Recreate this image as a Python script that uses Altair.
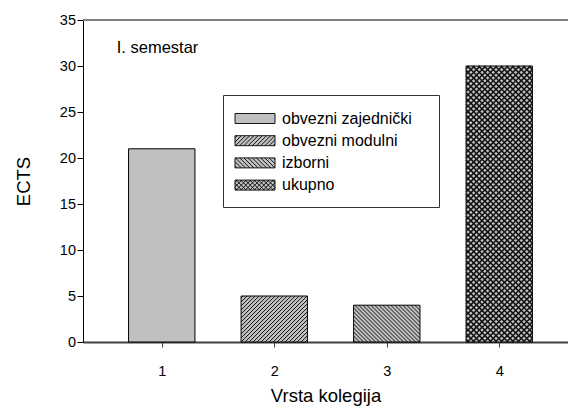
import altair as alt
import pandas as pd

# ---- data ----
positions = [1, 2, 3, 4]
values = [21, 5, 4, 30]
series = ["obvezni zajednički", "obvezni modulni", "izborni", "ukupno"]
patterns = ["solid", "fwd", "back", "cross"]
note_text = ["I. semestar"]
note_x = [0.6]
note_y = [31.4]

FONT = "Liberation Sans"
BASE = "#c0c0c0"

# plot geometry (used to make 45-degree hatch lines in data units)
W, H = 485, 322
XMIN = 0.3
XMAX = XMIN + W / 112.5
YMAX = 35
PX = W / (XMAX - XMIN)
PY = H / YMAX
HW = 0.295

bars = pd.DataFrame({
    "x0": [p - HW for p in positions],
    "x1": [p + HW for p in positions],
    "v": values,
    "zero": [0] * 4,
    "color": [BASE] * 4,
    "s": series,
})


def hatch_rows(x0, x1, val, kind, d):
    wb = (x1 - x0) * PX
    hb = val * PY
    rows = []
    kinds = []
    if kind in ("fwd", "cross"):
        kinds.append("fwd")
    if kind in ("back", "cross"):
        kinds.append("back")
    for k in kinds:
        if k == "fwd":
            c = -hb + d / 2
            while c < wb:
                ua, ub = max(0, c), min(wb, hb + c)
                if ub > ua:
                    rows.append((x0 + ua / PX, (ua - c) / PY, x0 + ub / PX, (ub - c) / PY))
                c += d
        else:
            c = d / 2
            while c < wb + hb:
                ua, ub = max(0, c - hb), min(wb, c)
                if ub > ua:
                    rows.append((x0 + ua / PX, (c - ua) / PY, x0 + ub / PX, (c - ub) / PY))
                c += d
    return rows


hrows = []
for p, v, k in zip(positions, values, patterns):
    if k == "solid":
        continue
    d = 5.6 if k == "cross" else 4.0
    for r in hatch_rows(p - HW, p + HW, v, k, d):
        hrows.append({"hx": r[0], "hy": r[1], "hx2": r[2], "hy2": r[3],
                      "w": 1.5 if k == "cross" else 1.0})
hatch = pd.DataFrame(hrows)


def legend_path(kind, d):
    # rectangle 4 x 1 units (units scaled by sqrt(size)/2)
    L, R, T, B = -2.0, 2.0, -0.5, 0.5
    parts = ["M%.3f,%.3fH%.3fV%.3fH%.3fZ" % (L, T, R, B, L)]
    ks = []
    if kind in ("fwd", "cross"):
        ks.append("fwd")
    if kind in ("back", "cross"):
        ks.append("back")
    for k in ks:
        a = L - 1.0 + d / 2
        while a < R:
            t0, t1 = max(0.0, L - a), min(1.0, R - a)
            if t1 > t0:
                if k == "fwd":
                    parts.append("M%.3f,%.3fL%.3f,%.3f" % (a + t0, B - t0, a + t1, B - t1))
                else:
                    parts.append("M%.3f,%.3fL%.3f,%.3f" % (a + t0, T + t0, a + t1, T + t1))
            a += d
    return "".join(parts)


shapes = [legend_path(k, 0.45 if k == "cross" else 0.42) for k in patterns]

legend_df = pd.DataFrame({"s": series, "x": [1] * 4, "y": [0] * 4})

xscale = alt.Scale(domain=[XMIN, XMAX], nice=False, zero=False)
yscale = alt.Scale(domain=[0, YMAX], nice=False)

xaxis = alt.Axis(values=positions, title="Vrsta kolegija", grid=False, tickSize=5,
                 labelPadding=17, titlePadding=9, domainColor="#404040", domainWidth=2,
                 tickColor="#404040", labelFontSize=14.5, titleFontSize=18.5,
                 titleFontWeight="normal", labelFont=FONT, titleFont=FONT,
                 labelColor="black", titleColor="black", format="d")
yaxis = alt.Axis(values=[0, 5, 10, 15, 20, 25, 30, 35], title="ECTS", grid=False, tickSize=6,
                 labelPadding=1.5, titlePadding=26, domainColor="black", tickColor="black",
                 labelFontSize=14.5, titleFontSize=18.5, titleFontWeight="normal",
                 labelFont=FONT, titleFont=FONT, labelColor="black", titleColor="black")

base_bars = alt.Chart(bars).mark_rect(stroke="black", strokeWidth=1).encode(
    x=alt.X("x0:Q", scale=xscale, axis=xaxis),
    x2="x1:Q",
    y=alt.Y("v:Q", scale=yscale, axis=yaxis),
    y2="zero:Q",
    fill=alt.Fill("color:N", scale=None),
)

hatch_layer = alt.Chart(hatch).mark_rule(color="#111111").encode(
    x="hx:Q", y="hy:Q", x2="hx2:Q", y2="hy2:Q",
    strokeWidth=alt.StrokeWidth("w:Q", scale=None),
)

top_line = alt.Chart(bars).mark_rule(color="#808080", strokeWidth=2).encode(
    y=alt.Y(datum=YMAX)
)

legend_layer = alt.Chart(legend_df).mark_point(filled=True, opacity=0).encode(
    x="x:Q", y="y:Q",
    fill=alt.Fill("s:N", scale=alt.Scale(domain=series, range=[BASE] * 4),
                  legend=alt.Legend(title=None, orient="none", legendX=140, legendY=75,
                                    fillColor="white", strokeColor="#333333", padding=13,
                                    labelFont=FONT, labelFontSize=16, labelColor="black",
                                    labelExpr="datum.label + '" + "\u00a0" * 3 + "\u200b'",
                                    symbolSize=400, symbolOffset=8.5, labelOffset=16.5,
                                    symbolStrokeColor="#202020", symbolStrokeWidth=0.9,
                                    symbolOpacity=1, rowPadding=3.2, labelLimit=300)),
    shape=alt.Shape("s:N", scale=alt.Scale(domain=series, range=shapes)),
)

note = alt.Chart(pd.DataFrame({"t": note_text, "x": note_x, "y": note_y})).mark_text(
    align="left", baseline="alphabetic", font=FONT, fontSize=16.5, color="black"
).encode(x="x:Q", y="y:Q", text="t:N")

chart = alt.layer(base_bars, hatch_layer, top_line, note, legend_layer).properties(
    width=W, height=H,
    autosize=alt.AutoSizeParams(type="none"),
    padding={"left": 75, "top": 12, "right": 0, "bottom": 64},
).configure_view(stroke=None)

chart.save("out.html", embed_options={"renderer": "svg", "actions": False})
